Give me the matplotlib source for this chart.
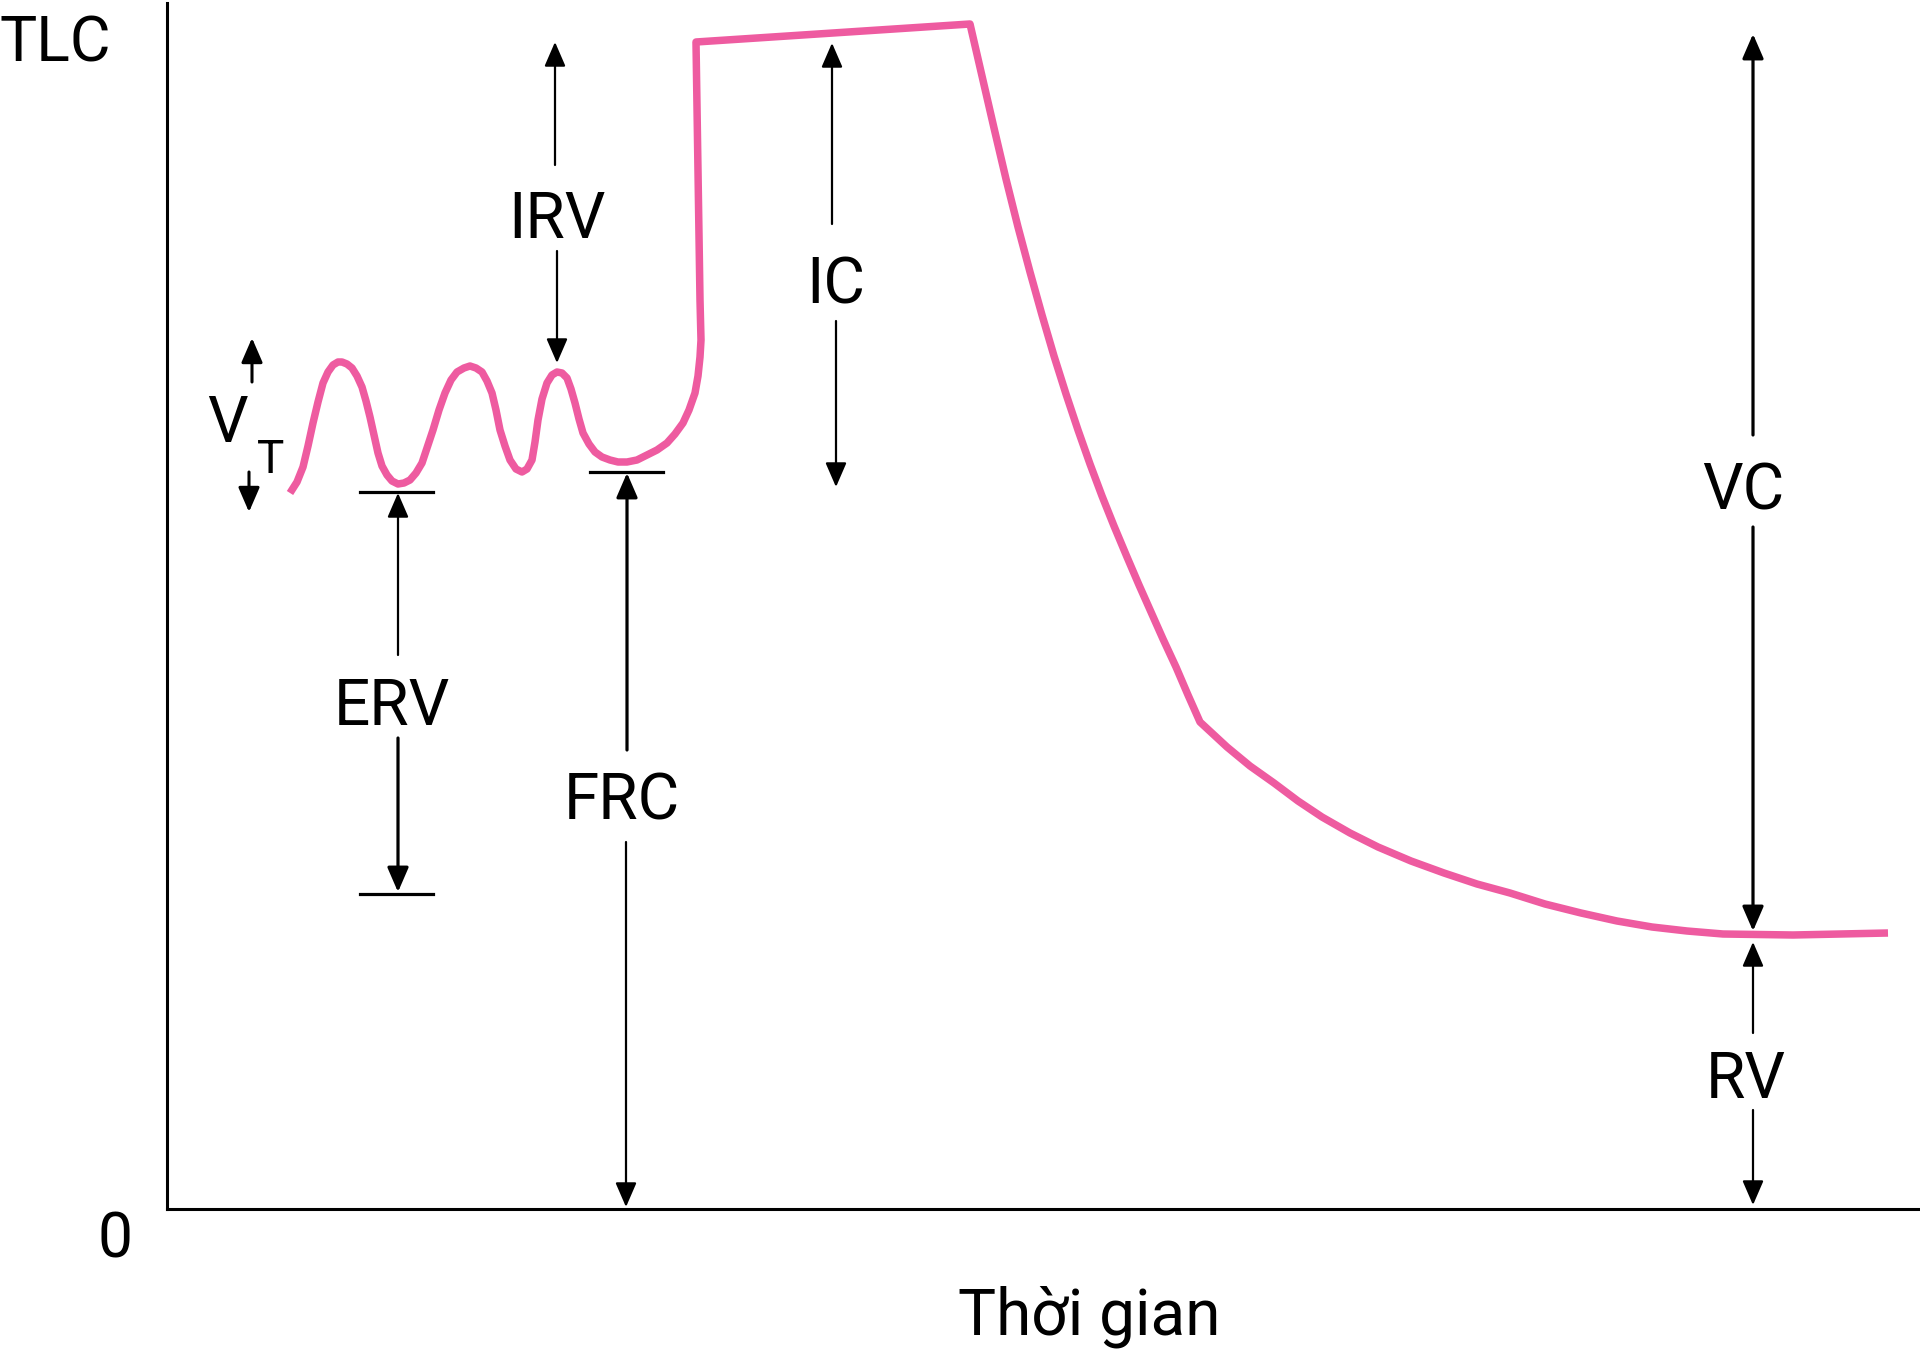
import matplotlib
matplotlib.use("Agg")
import matplotlib.pyplot as plt

# lung volume trace (arbitrary units: time along x, volume along y, 0 = empty lung)
time = [123, 130, 136, 141, 146, 151, 156, 161, 166, 171, 175, 180, 185, 190,
        195, 199, 203, 207, 211, 215, 220, 225, 231, 237, 243, 249, 255, 260,
        266, 272, 278, 284, 290, 297, 303, 309, 315, 320, 325, 329, 333, 338,
        343, 349, 355, 360, 365, 368, 371, 375, 380, 385, 390, 395, 400, 404,
        408, 412, 416, 422, 428, 435, 443, 451, 460, 470, 480, 490, 500, 508,
        516, 522, 528, 531, 533, 534, 533, 529,
        803, 815, 827, 839, 851, 863, 875, 887, 899, 911, 923, 935, 947, 960,
        972, 984, 996, 1009, 1021, 1033,
        1060, 1083, 1107, 1131, 1155, 1183, 1211, 1244, 1277, 1310, 1343,
        1378, 1414, 1450, 1485, 1520, 1556, 1626, 1721]
volume = [716, 727, 742, 763, 786, 807, 826, 837, 844, 847, 847, 845, 841, 833,
          822, 808, 792, 774, 756, 743, 734, 728, 725, 726, 729, 736, 746, 761,
          779, 799, 816, 829, 837, 841, 843, 841, 837, 828, 816, 799, 779, 763,
          749, 740, 737, 740, 749, 767, 789, 810, 826, 834, 837, 836, 831, 820,
          806, 790, 776, 765, 757, 752, 749, 747, 747, 749, 754, 759, 766, 775,
          786, 799, 816, 833, 852, 869, 909, 1167,
          1185, 1133, 1081, 1030, 982, 937, 894, 853, 815, 779, 745, 713, 683, 652,
          624, 597, 570, 542, 514, 487,
          462, 443, 426, 408, 392, 376, 362, 348, 336, 325, 316,
          305, 296, 288, 282, 278, 275, 274, 276]

# double-headed measurements drawn as two arrows: (x, tail, tip, linewidth)
arrows = [
    (85, 827, 871, 2.2),     # VT up
    (82, 737, 697, 2.2),     # VT down
    (388, 1044, 1167, 1.6),  # IRV up
    (390, 958, 846, 1.6),    # IRV down
    (665, 985, 1166, 1.6),   # IC up
    (669, 888, 722, 1.6),    # IC down
    (231, 554, 716, 1.6),    # ERV up
    (231, 471, 317, 2.3),    # ERV down
    (460, 459, 736, 2.3),    # FRC up
    (459, 367, 2, 1.6),      # FRC down
    (1586, 774, 1175, 2.3),  # VC up
    (1586, 682, 278, 2.3),   # VC down
    (1586, 176, 267, 1.6),   # RV up
    (1586, 99, 4, 1.6),      # RV down
]

# short horizontal markers (y, x0, x1)
bars = [(717, 193, 266), (315, 193, 266), (737, 423, 496)]

# labels: (text, x, baseline y, size)
labels = [
    ("IRV", 390, 971, 46),
    ("IC", 669, 906, 46),
    ("VC", 1576, 699, 46),
    ("ERV", 225, 484, 46),
    ("FRC", 455, 389, 46),
    ("RV", 1579, 111, 46),
    ("V", 60, 767, 46),
    ("T", 104, 736, 33),
    ("TLC", -112, 1147, 45),
    ("0", -52, -49, 45),
    ("Thời gian", 922, -126, 46),
]

plt.rcParams["font.family"] = ["Roboto", "DejaVu Sans"]

fig = plt.figure(figsize=(19.2, 13.54), dpi=100)
ax = fig.add_axes([167 / 1920, 145 / 1354, 1753 / 1920, 1206 / 1354])
ax.set_xlim(0, 1753)
ax.set_ylim(0, 1206)

ax.plot(time, volume, color="#EE5BA0", lw=5.4, solid_joinstyle="round",
        solid_capstyle="butt", zorder=3)

for x, tail, tip, lw in arrows:
    ax.annotate("", xy=(x, tip), xytext=(x, tail),
                arrowprops=dict(arrowstyle="-|>,head_length=15,head_width=6.5",
                                mutation_scale=1, lw=lw, color="black",
                                shrinkA=0, shrinkB=0))

for y, x0, x1 in bars:
    ax.plot([x0, x1], [y, y], color="black", lw=2.3, zorder=2)

for txt, x, y, size in labels:
    ax.text(x, y, txt, ha="center", va="baseline", fontsize=size,
            color="black", clip_on=False)

for side in ("top", "right"):
    ax.spines[side].set_visible(False)
for side in ("left", "bottom"):
    ax.spines[side].set_linewidth(2.2)
ax.set_xticks([])
ax.set_yticks([])

fig.savefig("out.png", dpi=100)
